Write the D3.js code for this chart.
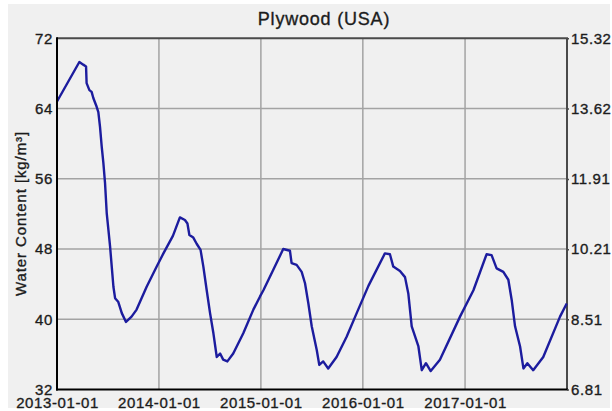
<!DOCTYPE html>
<html>
<head>
<meta charset="utf-8">
<script src="https://cdn.jsdelivr.net/npm/d3@7"></script>
<style>
  html, body { margin: 0; padding: 0; background: #ffffff; }
  svg { display: block; }
  .lbl { font-family: "Liberation Sans", Arial, sans-serif; fill: #1c1c1c; stroke: #1c1c1c; stroke-width: 0.35px; }
</style>
</head>
<body>
<svg id="chart" width="612" height="411"></svg>
<script>
// Moisture record for a plywood layer, 2013-2017
const dates = [
  "2013-01-01","2013-03-22","2013-04-05","2013-04-15","2013-04-17","2013-04-27",
  "2013-05-05","2013-05-11","2013-05-23","2013-05-29","2013-06-04","2013-06-10",
  "2013-06-16","2013-06-22","2013-06-28","2013-07-04","2013-07-10","2013-07-16",
  "2013-07-22","2013-07-28","2013-08-08","2013-08-14","2013-08-21","2013-09-05",
  "2013-09-25","2013-10-13","2013-11-18","2013-12-24","2014-01-17","2014-02-20",
  "2014-03-17","2014-04-04","2014-04-13","2014-04-20","2014-05-04","2014-05-16",
  "2014-05-30","2014-06-09","2014-06-21","2014-07-03","2014-07-15","2014-07-27",
  "2014-08-08","2014-08-19","2014-09-03","2014-09-24","2014-10-30","2014-12-05",
  "2014-12-29","2015-01-10","2015-02-14","2015-03-22","2015-04-15","2015-04-21",
  "2015-05-09","2015-05-27","2015-06-08","2015-06-20","2015-07-02","2015-07-20",
  "2015-07-29","2015-08-12","2015-08-30","2015-09-29","2015-11-04","2015-12-10",
  "2016-01-21","2016-03-20","2016-04-07","2016-04-19","2016-05-13","2016-05-31",
  "2016-06-12","2016-06-24","2016-07-18","2016-07-30","2016-08-14","2016-08-31",
  "2016-10-03","2016-12-14","2017-01-31","2017-03-19","2017-04-06","2017-04-24",
  "2017-05-18","2017-06-05","2017-06-17","2017-06-29","2017-07-17","2017-07-29",
  "2017-08-12","2017-09-02","2017-10-08","2017-12-07","2017-12-31"
];
const waterContent = [
  64.8, 69.3, 69.0, 68.8, 66.9, 66.1,
  65.9, 65.2, 64.2, 63.6, 61.9, 59.7,
  57.8, 55.5, 52.1, 50.2, 48.3, 46.0,
  43.7, 42.4, 42.0, 41.4, 40.7, 39.7,
  40.3, 41.1, 43.7, 46.0, 47.5, 49.5,
  51.6, 51.3, 50.9, 49.6, 49.3, 48.6,
  47.9, 46.0, 43.3, 40.7, 38.4, 35.7,
  36.1, 35.4, 35.2, 36.1, 38.4, 41.1,
  42.6, 43.3, 45.6, 48.0, 47.8, 46.4,
  46.2, 45.4, 44.1, 41.8, 39.2, 36.5,
  34.8, 35.2, 34.4, 35.7, 38.0, 40.7,
  43.8, 47.5, 47.4, 46.0, 45.5, 44.8,
  42.9, 39.2, 36.9, 34.2, 35.0, 34.1,
  35.4, 40.3, 43.3, 47.4, 47.3, 45.8,
  45.4, 44.5, 42.2, 39.2, 36.9, 34.4,
  35.0, 34.2, 35.7, 40.3, 41.8
];

// Axis tick values
const leftTicks = [32, 40, 48, 56, 64, 72];
const rightTicks = [6.81, 8.51, 10.21, 11.91, 13.62, 15.32];
const xTicks = ["2013-01-01", "2014-01-01", "2015-01-01", "2016-01-01", "2017-01-01"];
const xDomain = ["2013-01-01", "2018-01-01"];

const titleText = "Plywood (USA)";
const yTitle = "Water Content [kg/m³]";

const parse = d3.utcParse("%Y-%m-%d");
const series = dates.map((d, i) => ({ date: parse(d), value: waterContent[i] }));

const svg = d3.select("#chart");
const plotLeft = 57, plotRight = 567, plotTop = 38.3, plotBottom = 389.5;

// Panel background
svg.append("rect")
  .attr("x", 8).attr("y", 4).attr("width", 602).attr("height", 404)
  .attr("fill", "#f0f0f0");

const x = d3.scaleUtc().domain(xDomain.map(parse)).range([plotLeft, plotRight]);
const y = d3.scaleLinear().domain([32, 72]).range([plotBottom, plotTop]);
const yR = d3.scaleLinear().domain([6.81, 15.32]).range([plotBottom, plotTop]);

// Grid
const grid = svg.append("g").attr("stroke", "#a3a3a3").attr("stroke-width", 1.5);
grid.selectAll("line.v").data(xTicks.slice(1).map(parse)).enter().append("line")
  .attr("x1", d => x(d)).attr("x2", d => x(d))
  .attr("y1", plotTop).attr("y2", plotBottom);
grid.selectAll("line.h").data(leftTicks.slice(1, -1)).enter().append("line")
  .attr("x1", plotLeft).attr("x2", plotRight)
  .attr("y1", d => y(d)).attr("y2", d => y(d));

// Frame: top and right in dark grey, left and bottom in black
svg.append("line").attr("x1", plotLeft).attr("x2", plotRight + 1).attr("y1", plotTop).attr("y2", plotTop)
  .attr("stroke", "#4a4a4a").attr("stroke-width", 2);
svg.append("line").attr("x1", plotRight).attr("x2", plotRight).attr("y1", plotTop).attr("y2", plotBottom)
  .attr("stroke", "#4a4a4a").attr("stroke-width", 2);

// Data line
const line = d3.line().x(d => x(d.date)).y(d => y(d.value)).curve(d3.curveLinear);
svg.append("path").datum(series)
  .attr("d", line)
  .attr("fill", "none")
  .attr("stroke", "#1c1c9e")
  .attr("stroke-width", 2.4)
  .attr("stroke-linejoin", "round");

svg.append("line").attr("x1", plotLeft).attr("x2", plotLeft).attr("y1", plotTop - 1).attr("y2", plotBottom + 1)
  .attr("stroke", "#000").attr("stroke-width", 2);
svg.append("line").attr("x1", plotLeft - 1).attr("x2", plotRight + 1).attr("y1", plotBottom).attr("y2", plotBottom)
  .attr("stroke", "#000").attr("stroke-width", 2);

function styleAxis(g) {
  g.select(".domain").remove();
  g.selectAll("text")
    .attr("class", "lbl")
    .attr("fill", null)
    .style("font-size", "15px")
    .style("letter-spacing", "0.6px");
}

// Left axis
svg.append("g").attr("transform", `translate(${plotLeft},0)`)
  .call(d3.axisLeft(y).tickValues(leftTicks).tickSize(0).tickPadding(4).tickFormat(d3.format("d")))
  .call(styleAxis);

// Right axis
svg.append("g").attr("transform", `translate(${plotRight},0)`)
  .call(d3.axisRight(yR).tickValues(rightTicks).tickSize(2).tickPadding(2).tickFormat(d3.format(".2f")))
  .call(styleAxis)
  .call(g => g.selectAll("line").attr("stroke", "#4a4a4a").attr("stroke-width", 1.5));

// Bottom axis
svg.append("g").attr("transform", `translate(0,${plotBottom})`)
  .call(d3.axisBottom(x).tickValues(xTicks.map(parse)).tickSize(0).tickPadding(7.5)
    .tickFormat(d3.utcFormat("%Y-%m-%d")))
  .call(styleAxis);

// Title
svg.append("text").attr("class", "lbl")
  .attr("x", 324).attr("y", 25)
  .attr("text-anchor", "middle")
  .style("font-size", "18px")
  .style("letter-spacing", "0.8px")
  .text(titleText);

// Vertical axis title
svg.append("text").attr("class", "lbl")
  .attr("transform", "translate(25.5,213.5) rotate(-90)")
  .attr("text-anchor", "middle")
  .style("font-size", "15px")
  .style("letter-spacing", "0.9px")
  .text(yTitle);
</script>
</body>
</html>
